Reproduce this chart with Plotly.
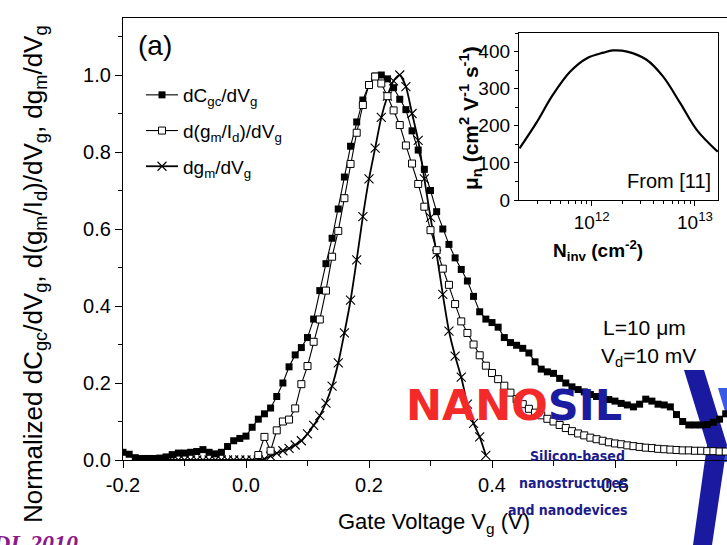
import plotly.graph_objects as go

# ---- main panel data: normalized derivatives vs gate voltage ----
vg_cgc = [-0.20, -0.19, -0.18, -0.17, -0.16, -0.15, -0.14, -0.13, -0.12, -0.11,
          -0.10, -0.09, -0.08, -0.07, -0.06, -0.05, -0.04, -0.03, -0.02, -0.01,
          0.00, 0.01, 0.02, 0.03, 0.04, 0.05, 0.06, 0.07, 0.08, 0.09,
          0.10, 0.11, 0.12, 0.13, 0.14, 0.15, 0.16, 0.17, 0.18, 0.19,
          0.20, 0.21, 0.22, 0.23, 0.24, 0.25, 0.26, 0.27, 0.28, 0.29,
          0.30, 0.31, 0.32, 0.33, 0.34, 0.35, 0.36, 0.37, 0.38, 0.39,
          0.40, 0.41, 0.42, 0.43, 0.44, 0.45, 0.46, 0.47, 0.48, 0.49,
          0.50, 0.51, 0.52, 0.53, 0.54, 0.55, 0.56, 0.57, 0.58, 0.59,
          0.60, 0.61, 0.62, 0.63, 0.64, 0.65, 0.66, 0.67, 0.68, 0.69,
          0.70, 0.71, 0.72, 0.73, 0.74, 0.75, 0.76, 0.77, 0.78, 0.79]
dcgc = [0.020, 0.015, 0.006, 0.004, 0.004, 0.004, 0.005, 0.008, 0.014, 0.018,
        0.018, 0.020, 0.022, 0.027, 0.020, 0.016, 0.020, 0.035, 0.050, 0.056,
        0.062, 0.085, 0.106, 0.120, 0.135, 0.165, 0.200, 0.242, 0.273, 0.292,
        0.318, 0.366, 0.440, 0.510, 0.576, 0.652, 0.735, 0.815, 0.878, 0.935,
        0.975, 0.997, 1.000, 0.990, 0.967, 0.937, 0.910, 0.855, 0.805, 0.755,
        0.700, 0.645, 0.600, 0.560, 0.525, 0.495, 0.465, 0.425, 0.385, 0.366,
        0.357, 0.345, 0.318, 0.305, 0.298, 0.290, 0.278, 0.255, 0.236, 0.229,
        0.225, 0.212, 0.200, 0.190, 0.183, 0.177, 0.170, 0.165, 0.160, 0.157,
        0.153, 0.147, 0.143, 0.138, 0.145, 0.158, 0.153, 0.145, 0.143, 0.138,
        0.118, 0.100, 0.091, 0.091, 0.091, 0.092, 0.098, 0.106, 0.120, 0.130]

vg_gmid = [0.02, 0.03, 0.04, 0.05, 0.06, 0.07, 0.08, 0.09,
           0.10, 0.11, 0.12, 0.13, 0.14, 0.15, 0.16, 0.17, 0.18, 0.19,
           0.20, 0.21, 0.22, 0.23, 0.24, 0.25, 0.26, 0.27, 0.28, 0.29,
           0.30, 0.31, 0.32, 0.33, 0.34, 0.35, 0.36, 0.37, 0.38, 0.39,
           0.40, 0.41, 0.42, 0.43, 0.44, 0.45, 0.46, 0.47, 0.48, 0.49,
           0.50, 0.51, 0.52, 0.53, 0.54, 0.55, 0.56, 0.57, 0.58, 0.59,
           0.60, 0.61, 0.62, 0.63, 0.64, 0.65, 0.66, 0.67, 0.68, 0.69,
           0.70, 0.71, 0.72, 0.73, 0.74, 0.75, 0.76, 0.77, 0.78, 0.79]
dgmid = [0.013, 0.060, 0.024, 0.077, 0.100, 0.105, 0.134, 0.197,
         0.244, 0.307, 0.365, 0.440, 0.528, 0.595, 0.680, 0.769, 0.850, 0.922,
         0.974, 0.996, 0.978, 0.945, 0.908, 0.870, 0.817, 0.770, 0.717, 0.658,
         0.597, 0.545, 0.497, 0.455, 0.405, 0.360, 0.330, 0.300, 0.272, 0.245,
         0.226, 0.210, 0.193, 0.175, 0.158, 0.145, 0.133, 0.123, 0.116, 0.107,
         0.100, 0.091, 0.083, 0.075, 0.069, 0.064, 0.058, 0.054, 0.050, 0.046,
         0.043, 0.041, 0.038, 0.036, 0.034, 0.032, 0.031, 0.029, 0.028, 0.027,
         0.026, 0.025, 0.025, 0.024, 0.024, 0.023, 0.023, 0.022, 0.022, 0.022]

vg_gm = [-0.18, -0.17, -0.16, -0.15, -0.14, -0.13, -0.12, -0.11, -0.10, -0.09,
         -0.08, -0.07, -0.06, -0.05, -0.04, -0.03, -0.02, -0.01, 0.00, 0.01,
         0.02, 0.03, 0.04, 0.05, 0.06, 0.07, 0.08, 0.09,
         0.10, 0.11, 0.12, 0.13, 0.14, 0.15, 0.16, 0.17, 0.18, 0.19,
         0.20, 0.21, 0.22, 0.23, 0.24, 0.25, 0.26, 0.27, 0.28, 0.29,
         0.30, 0.31, 0.32, 0.33, 0.34, 0.35, 0.36, 0.37, 0.38, 0.39]
dgm = [0.0, 0.0, 0.0, 0.0, 0.0, 0.0, 0.0, 0.0, 0.0, 0.0,
       0.0, 0.0, 0.0, 0.0, 0.0, 0.0, 0.0, 0.0, 0.0, 0.0,
       0.0, 0.003, 0.010, 0.018, 0.024, 0.030, 0.039, 0.050,
       0.068, 0.090, 0.115, 0.148, 0.192, 0.252, 0.330, 0.415, 0.520, 0.632,
       0.730, 0.810, 0.890, 0.945, 0.985, 1.000, 0.970, 0.900, 0.830, 0.730,
       0.630, 0.535, 0.430, 0.335, 0.270, 0.215, 0.145, 0.095, 0.060, 0.012]

# ---- inset data: electron mobility vs inversion charge ----
n_inv = [2.0e11, 2.9e11, 4.2e11, 6.2e11, 9.0e11, 1.3e12, 1.6e12,
         2.2e12, 3.4e12, 4.9e12, 7.2e12, 1.04e13, 1.66e13]
mu_n = [139, 207, 283, 346, 382, 397, 403, 400, 378, 333, 261, 189, 130]

x_ticks = [-0.2, 0.0, 0.2, 0.4, 0.6, 0.8]
x_ticklabels = ["-0.2", "0.0", "0.2", "0.4", "0.6", "0.8"]
y_ticks = [0.0, 0.2, 0.4, 0.6, 0.8, 1.0]
y_ticklabels = ["0.0", "0.2", "0.4", "0.6", "0.8", "1.0"]
inset_yticks = [0, 100, 200, 300, 400]
inset_xticks = [1e12, 1e13]
inset_xticklabels = ["10<sup>12</sup>", "10<sup>13</sup>"]
inset_xminor = [3e11, 4e11, 5e11, 6e11, 7e11, 8e11, 9e11,
                2e12, 3e12, 4e12, 5e12, 6e12, 7e12, 8e12, 9e12]

W, H = 727, 545
PL, PR, PT, PB = 123, 727, 18, 460  # plot-area edges in pixels


def fx(px):
    return (px - PL) / (PR - PL)


def fy(py):
    return (PB - py) / (PB - PT)


FONT = "Liberation Sans, Arial, sans-serif"

fig = go.Figure()

fig.add_trace(go.Scatter(
    x=vg_gm, y=dgm, mode="lines+markers", name="dg<sub>m</sub>/dV<sub>g</sub>",
    line=dict(color="black", width=1.8, shape="spline", smoothing=0.6),
    marker=dict(symbol="x-thin", size=9, line=dict(color="black", width=1.1)),
    legendgroup="c", legendrank=3,
))
fig.add_trace(go.Scatter(
    x=vg_cgc, y=dcgc, mode="lines+markers", name="dC<sub>gc</sub>/dV<sub>g</sub>",
    line=dict(color="black", width=1.1),
    marker=dict(symbol="square", size=7, color="black"),
    legendgroup="a", legendrank=1,
))
fig.add_trace(go.Scatter(
    x=vg_gmid, y=dgmid, mode="lines+markers",
    name="d(g<sub>m</sub>/I<sub>d</sub>)/dV<sub>g</sub>",
    line=dict(color="black", width=1.1),
    marker=dict(symbol="square", size=7, color="white", line=dict(color="black", width=1)),
    legendgroup="b", legendrank=2,
))

fig.add_trace(go.Scatter(
    x=n_inv, y=mu_n, mode="lines", xaxis="x2", yaxis="y2", showlegend=False,
    line=dict(color="black", width=2.2, shape="spline", smoothing=1.0),
))

axis_common = dict(
    showline=True, linecolor="black", linewidth=1.3, showgrid=False, zeroline=False,
    ticks="outside", ticklen=7, tickwidth=1.2, tickcolor="black",
    tickfont=dict(family=FONT, size=20, color="black"),
)

fig.update_layout(
    width=W, height=H,
    margin=dict(l=PL, r=W - PR, t=PT, b=H - PB, pad=0),
    paper_bgcolor="white", plot_bgcolor="white",
    font=dict(family=FONT, color="black"),
    xaxis=dict(
        **axis_common, range=[-0.2, -0.2 + (PR - PL) / 615.0], mirror=True,
        tickvals=x_ticks, ticktext=x_ticklabels,
        minor=dict(ticks="outside", ticklen=5, tickwidth=1.2, tickcolor="black", dtick=0.1),
    ),
    yaxis=dict(
        **axis_common, range=[0, (PB - PT) / 385.0],
        tickvals=y_ticks, ticktext=y_ticklabels,
        minor=dict(ticks="outside", ticklen=4, tickwidth=1.2, tickcolor="black", dtick=0.1),
    ),
    xaxis2=dict(
        showline=True, linecolor="black", linewidth=1.3, mirror=True, showgrid=False,
        zeroline=False, type="log", range=[11.296, 13.223],
        domain=[fx(519), fx(718)], anchor="y2",
        ticks="outside", ticklen=5, tickwidth=1.1, tickcolor="black",
        tickvals=inset_xticks, ticktext=inset_xticklabels,
        tickfont=dict(family=FONT, size=19, color="black"),
        minor=dict(ticks="outside", ticklen=3, tickwidth=1, tickcolor="black",
                   tickvals=inset_xminor),
    ),
    yaxis2=dict(
        showline=True, linecolor="black", linewidth=1.3, mirror=True, showgrid=False,
        zeroline=False, range=[0, 450], domain=[fy(200), fy(33)], anchor="x2",
        ticks="outside", ticklen=4, tickwidth=1.1, tickcolor="black",
        tickvals=inset_yticks,
        tickfont=dict(family=FONT, size=19, color="black"),
        minor=dict(ticks="outside", ticklen=3, tickwidth=1, tickcolor="black", dtick=50),
    ),
    legend=dict(
        x=fx(141), y=fy(76), xanchor="left", yanchor="top",
        bgcolor="rgba(0,0,0,0)", borderwidth=0,
        font=dict(family=FONT, size=19, color="black"),
        tracegroupgap=8, itemwidth=32, traceorder="grouped",
    ),
)

ann = []
# axis titles
ann.append(dict(x=fx(336), y=fy(523), xref="paper", yref="paper", xanchor="left",
                yanchor="middle", showarrow=False,
                text="Gate Voltage V<sub>g</sub> (V)",
                font=dict(family=FONT, size=22, color="black")))
ann.append(dict(x=fx(34), y=fy(525), xref="paper", yref="paper", xanchor="center",
                yanchor="bottom", showarrow=False, textangle=-90,
                text="Normalized dC<sub>gc</sub>/dV<sub>g</sub>, d(g<sub>m</sub>/I<sub>d</sub>)/dV<sub>g</sub>, dg<sub>m</sub>/dV<sub>g</sub>",
                font=dict(family=FONT, size=26, color="black")))
# panel label
ann.append(dict(x=fx(136), y=fy(45), xref="paper", yref="paper", xanchor="left",
                yanchor="middle", showarrow=False, text="(a)",
                font=dict(family=FONT, size=28, color="black")))
# device conditions
ann.append(dict(x=fx(601), y=fy(327), xref="paper", yref="paper", xanchor="left",
                yanchor="middle", showarrow=False, text="L=10 \u03bcm",
                font=dict(family=FONT, size=21, color="black")))
ann.append(dict(x=fx(599), y=fy(357), xref="paper", yref="paper", xanchor="left",
                yanchor="middle", showarrow=False, text="V<sub>d</sub>=10 mV",
                font=dict(family=FONT, size=21, color="black")))
# inset titles
ann.append(dict(x=fx(598), y=fy(250), xref="paper", yref="paper", xanchor="center",
                yanchor="middle", showarrow=False,
                text="<b>N<sub>inv</sub> (cm<sup>-2</sup>)</b>",
                font=dict(family=FONT, size=19, color="black")))
ann.append(dict(x=fx(471), y=fy(118), xref="paper", yref="paper", xanchor="center",
                yanchor="middle", showarrow=False, textangle=-90,
                text="<b>\u03bc<sub>n</sub> (cm<sup>2</sup> V<sup>-1</sup> s<sup>-1</sup>)</b>",
                font=dict(family=FONT, size=21, color="black")))
ann.append(dict(x=fx(713), y=fy(181), xref="paper", yref="paper", xanchor="right",
                yanchor="middle", showarrow=False, text="From [11]",
                font=dict(family=FONT, size=20, color="black")))
# logo watermark
ann.append(dict(x=fx(404), y=fy(405), xref="paper", yref="paper", xanchor="left",
                yanchor="middle", showarrow=False,
                text="<b><span style='color:#f42a2a'>NANO</span><span style='color:#1c1ca0'>SIL</span></b>",
                font=dict(family="DejaVu Sans, sans-serif", size=43, color="#1c1ca0")))
for txt, xr, yc in [("Silicon-based", 627, 456), ("nanostructures", 630, 483),
                    ("and nanodevices", 630, 510)]:
    ann.append(dict(x=fx(xr), y=fy(yc), xref="paper", yref="paper", xanchor="right",
                    yanchor="middle", showarrow=False, text="<b>" + txt + "</b>",
                    font=dict(family="DejaVu Sans Condensed, DejaVu Sans, sans-serif",
                              size=14, color="#1c1c8c")))
# journal tag
ann.append(dict(x=fx(80), y=fy(543), xref="paper", yref="paper", xanchor="right",
                yanchor="middle", showarrow=False, text="<b><i>EDL 2010</i></b>",
                font=dict(family="Liberation Serif, serif", size=24, color="#8b1a8b")))
fig.update_layout(annotations=ann)

# logo chevrons (paper-referenced decoration)
def pp(px, py):
    return f"{fx(px):.4f},{fy(py):.4f}"

chev1 = ("M " + pp(684, 370) + " L " + pp(704, 370) + " L " + pp(727, 445) +
         " L " + pp(712, 545) + " L " + pp(693, 545) + " L " + pp(707, 445) + " Z")
chev2 = ("M " + pp(718, 388) + " L " + pp(735, 388) + " L " + pp(745, 450) +
         " L " + pp(735, 462) + " L " + pp(724, 462) + " L " + pp(730, 428) + " Z")
fig.update_layout(shapes=[
    dict(type="path", path=chev1, xref="paper", yref="paper",
         fillcolor="#1a1aa0", line=dict(width=0), layer="below"),
    dict(type="path", path=chev2, xref="paper", yref="paper",
         fillcolor="#3a5ae6", line=dict(width=0), layer="below"),
])

fig.write_html("out.html")
